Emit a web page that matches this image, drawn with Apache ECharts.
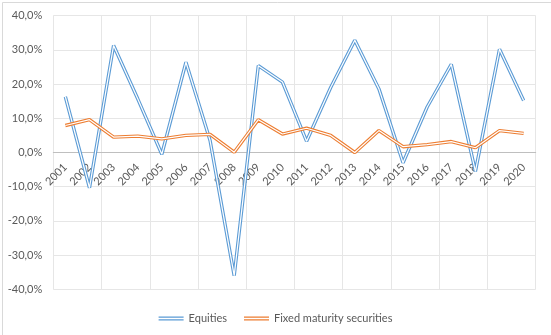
<!DOCTYPE html>
<html>
<head>
<meta charset="utf-8">
<script src="https://cdn.jsdelivr.net/npm/echarts@6/dist/echarts.min.js"></script>
<style>
html,body{margin:0;padding:0;background:#fff;}
#chart{width:551px;height:335px;}
</style>
</head>
<body>
<div id="chart"></div>
<script>
const years = ['2001','2002','2003','2004','2005','2006','2007','2008','2009','2010','2011','2012','2013','2014','2015','2016','2017','2018','2019','2020'];
const equities = [16.3, -10.3, 31.3, 15.7, -0.5, 26.4, 3.5, -36.0, 25.4, 20.6, 3.3, 19.0, 32.8, 18.6, -3.0, 13.3, 25.8, -5.5, 30.2, 15.2];
const fixedMaturity = [7.9, 9.6, 4.5, 4.8, 4.0, 5.0, 5.3, 0.1, 9.6, 5.4, 7.1, 5.0, 0.0, 6.4, 1.7, 2.3, 3.2, 1.4, 6.4, 5.6];
const yMin = -40, yMax = 40, yStep = 10;

const FONT = 'Lato, "Open Sans", sans-serif';
const BLUE = '#5b9bd5', ORANGE = '#ed7d31';
const doubleIcon = 'path://M0,0H26V1.2H0Z M0,2.8H26V4H0Z';

const gridTop = 15.7, gridBottom = 45.7, H = 335;
const plotH = H - gridTop - gridBottom;
const zeroOffset = -plotH * (0 - yMin) / (yMax - yMin);

function outer(name, data, color) {
  return {
    name: name, type: 'line', data: data, symbol: 'none', color: color,
    itemStyle: {color: color},
    lineStyle: {color: color, width: 3.4}, silent: true, animation: false
  };
}
function inner(name, data) {
  return {
    name: name, type: 'line', data: data, symbol: 'none',
    lineStyle: {color: '#ffffff', width: 1.2}, silent: true, animation: false
  };
}

const chart = echarts.init(document.getElementById('chart'), null, {renderer: 'canvas'});
chart.setOption({
  animation: false,
  backgroundColor: '#ffffff',
  graphic: [{
    type: 'rect', left: 0, top: 0, silent: true,
    shape: {x: 0.5, y: 0.5, width: 550, height: 334},
    style: {fill: 'none', stroke: '#d9d9d9', lineWidth: 1}
  }],
  grid: {left: 53.3, right: 15.3, top: gridTop, bottom: gridBottom},
  legend: {
    data: [
      {name: 'Equities', icon: doubleIcon},
      {name: 'Fixed maturity securities', icon: doubleIcon}
    ],
    left: 'center', top: 308,
    itemWidth: 25, itemHeight: 4, itemGap: 17,
    textStyle: {color: '#595959', fontSize: 11, fontFamily: FONT}
  },
  xAxis: [{
    type: 'category', data: years, boundaryGap: true,
    axisLine: {show: false},
    axisTick: {show: false},
    axisLabel: {show: false},
    splitLine: {show: true, lineStyle: {color: '#e6e6e6', width: 1}}
  }, {
    type: 'category', data: years, boundaryGap: true, position: 'bottom', offset: zeroOffset,
    axisLine: {show: true, onZero: false, lineStyle: {color: '#bfbfbf', width: 1}},
    axisTick: {show: false},
    axisLabel: {rotate: 45, margin: 13, color: '#595959', fontSize: 11, fontFamily: FONT, interval: 0},
    splitLine: {show: false}
  }],
  yAxis: {
    type: 'value', min: yMin, max: yMax, interval: yStep,
    axisLine: {show: false}, axisTick: {show: false},
    axisLabel: {
      margin: 11, color: '#595959', fontSize: 11, fontFamily: FONT,
      formatter: v => v.toFixed(1).replace('.', ',') + '%'
    },
    splitLine: {show: true, lineStyle: {color: '#e6e6e6', width: 1}}
  },
  series: [
    outer('Equities', equities, BLUE),
    inner('Equities_inner', equities),
    outer('Fixed maturity securities', fixedMaturity, ORANGE),
    inner('Fixed_inner', fixedMaturity)
  ]
});
</script>
</body>
</html>
